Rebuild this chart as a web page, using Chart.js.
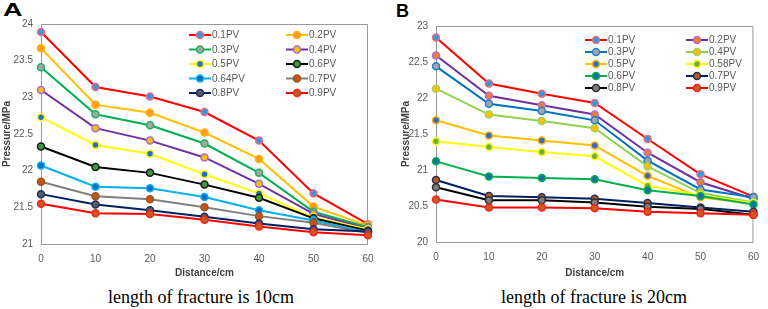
<!DOCTYPE html>
<html>
<head>
<meta charset="utf-8">
<script src="https://cdn.jsdelivr.net/npm/chart.js@4/dist/chart.umd.min.js"></script>
<style>
  body { margin: 0; background: #fff; width: 768px; height: 309px; position: relative; overflow: hidden; }
  canvas { position: absolute; top: 0; }
  #cA { left: 0; }
  #cB { left: 384px; }
  .tag { position: absolute; font: bold 18px "Liberation Sans", Arial, sans-serif; color: #000; }
  .cap { position: absolute; top: 286px; width: 384px; text-align: center; font: 18px "Liberation Serif", "Times New Roman", serif; color: #000; line-height: 22px; }
</style>
</head>
<body>
<div class="tag" style="left:3px; top:0px; transform: scaleX(1.5); transform-origin: left;">A</div>
<div class="tag" style="left:396px; top:1px;">B</div>
<canvas id="cA" width="384" height="280"></canvas>
<canvas id="cB" width="384" height="280"></canvas>
<div class="cap" style="left:9px;">length of fracture is 10cm</div>
<div class="cap" style="left:402px;">length of fracture is 20cm</div>
<script>
// x positions (cm)
const distances = [0, 10, 20, 30, 40, 50, 60];

// chart A: fracture length 10cm
const labelsA = ['0.1PV', '0.2PV', '0.3PV', '0.4PV', '0.5PV', '0.6PV', '0.64PV', '0.7PV', '0.8PV', '0.9PV'];
const a01 = [23.89, 23.14, 23.01, 22.80, 22.41, 21.69, 21.27];
const a02 = [23.67, 22.90, 22.79, 22.52, 22.16, 21.51, 21.25];
const a03 = [23.41, 22.77, 22.62, 22.37, 21.97, 21.44, 21.23];
const a04 = [23.10, 22.58, 22.41, 22.18, 21.82, 21.41, 21.21];
const a05 = [22.73, 22.35, 22.23, 21.95, 21.69, 21.36, 21.20];
const a06 = [22.33, 22.05, 21.97, 21.81, 21.63, 21.35, 21.18];
const a064 = [22.07, 21.78, 21.76, 21.64, 21.46, 21.32, 21.16];
const a07 = [21.85, 21.65, 21.61, 21.50, 21.38, 21.29, 21.15];
const a08 = [21.68, 21.54, 21.46, 21.37, 21.28, 21.20, 21.17];
const a09 = [21.55, 21.42, 21.41, 21.33, 21.24, 21.16, 21.12];
const yTicksA = [21, 21.5, 22, 22.5, 23, 23.5, 24];

// chart B: fracture length 20cm
const labelsB = ['0.1PV', '0.2PV', '0.3PV', '0.4PV', '0.5PV', '0.58PV', '0.6PV', '0.7PV', '0.8PV', '0.9PV'];
const b01 = [22.84, 22.20, 22.06, 21.93, 21.43, 20.94, 20.63];
const b02 = [22.59, 22.03, 21.90, 21.77, 21.24, 20.83, 20.60];
const b03 = [22.44, 21.92, 21.82, 21.69, 21.13, 20.73, 20.62];
const b04 = [22.13, 21.77, 21.68, 21.58, 21.05, 20.68, 20.55];
const b05 = [21.69, 21.48, 21.41, 21.34, 20.92, 20.62, 20.53];
const b058 = [21.40, 21.32, 21.25, 21.19, 20.78, 20.65, 20.54];
const b06 = [21.12, 20.91, 20.89, 20.87, 20.72, 20.64, 20.52];
const b07 = [20.86, 20.64, 20.62, 20.60, 20.54, 20.48, 20.42];
const b08 = [20.76, 20.58, 20.58, 20.55, 20.49, 20.46, 20.38];
const b09 = [20.59, 20.48, 20.48, 20.47, 20.42, 20.40, 20.38];
const yTicksB = [20, 20.5, 21, 21.5, 22, 22.5, 23];

// styles
const lineA = ['#FF0000', '#FFC000', '#00B050', '#7030A0', '#FFFF00', '#000000', '#00B0F0', '#808080', '#002060', '#FF0000'];
const fillA = ['#2E9BE0', '#FF9A1F', '#A5A5A5', '#FFC000', '#1F6FD0', '#3C9A3C', '#0A6FC0', '#C0571A', '#5A5A6A', '#C0601A'];
const ringA = ['#F06A7A', '#FFB000', '#1FB060', '#A070D0', '#FFFF00', '#1A1A1A', '#10B0F0', '#A05020', '#203060', '#FF2020'];
const lineB = ['#FF0000', '#7030A0', '#0070C0', '#92D050', '#FFC000', '#FFFF00', '#00B050', '#002060', '#000000', '#FF0000'];
const fillB = ['#2E9BE0', '#ED7D31', '#A5A5A5', '#FFC000', '#2E70C8', '#70AD47', '#1A6FA0', '#C0571A', '#7F7F7F', '#C0601A'];
const ringB = ['#F06A7A', '#B070D0', '#2080D0', '#A0D060', '#FFB000', '#FFFF00', '#00B050', '#203060', '#303030', '#FF2020'];

const FONT = '"Liberation Sans", Arial, sans-serif';

function makeSets(labels, series, lines, fills, rings) {
  return series.map((s, i) => ({
    label: labels[i],
    data: s,
    borderColor: lines[i],
    borderWidth: 2,
    pointBackgroundColor: fills[i],
    pointBorderColor: rings[i],
    pointBorderWidth: 1.5,
    pointRadius: 3.5,
    tension: 0,
    order: series.length - i
  }));
}

// legend drawn inside the plot, two columns
const innerLegend = {
  id: 'innerLegend',
  afterDatasetsDraw(chart, args, opts) {
    const ctx = chart.ctx;
    ctx.save();
    ctx.font = '10px ' + FONT;
    ctx.textBaseline = 'middle';
    ctx.textAlign = 'left';
    chart.data.datasets.forEach((ds, i) => {
      const x = opts.x[i % 2];
      const y = opts.y + Math.floor(i / 2) * opts.dy;
      ctx.strokeStyle = ds.borderColor;
      ctx.lineWidth = 2;
      ctx.beginPath();
      ctx.moveTo(x, y);
      ctx.lineTo(x + 22, y);
      ctx.stroke();
      ctx.beginPath();
      ctx.arc(x + 11, y, 3.5, 0, Math.PI * 2);
      ctx.fillStyle = ds.pointBackgroundColor;
      ctx.fill();
      ctx.lineWidth = 1.5;
      ctx.strokeStyle = ds.pointBorderColor;
      ctx.stroke();
      ctx.fillStyle = '#595959';
      ctx.fillText(ds.label, x + 23, y + 0.5);
    });
    ctx.restore();
  }
};

// grey frame round the plot area
const frame = {
  id: 'frame',
  beforeDatasetsDraw(chart) {
    const a = chart.chartArea, ctx = chart.ctx;
    ctx.save();
    ctx.strokeStyle = '#9A9A9A';
    ctx.lineWidth = 1;
    ctx.strokeRect(a.left + 0.5, a.top + 0.5, a.right - a.left - 1, a.bottom - a.top);
    ctx.restore();
  }
};

function makeChart(id, sets, yTicks, pad, yWidth, xHeight, legend) {
  new Chart(document.getElementById(id), {
    type: 'line',
    data: { labels: distances, datasets: sets },
    plugins: [frame, innerLegend],
    options: {
      responsive: false,
      animation: false,
      devicePixelRatio: 1,
      layout: { padding: pad },
      plugins: {
        legend: { display: false },
        tooltip: { enabled: false },
        innerLegend: legend
      },
      scales: {
        x: {
          grid: { display: false, drawTicks: false },
          border: { display: false },
          ticks: { padding: 9, color: '#595959', font: { family: FONT, size: 10 }, maxRotation: 0 },
          title: { display: true, text: 'Distance/cm', color: '#404040', font: { family: FONT, size: 10, weight: 'bold' }, padding: { top: 0, bottom: 1 } },
          afterFit: s => { s.height = xHeight; }
        },
        y: {
          min: yTicks[0],
          max: yTicks[yTicks.length - 1],
          grid: { display: false, drawTicks: false },
          border: { display: false },
          ticks: {
            stepSize: yTicks[1] - yTicks[0],
            padding: 8,
            color: '#595959',
            font: { family: FONT, size: 10 },
            callback: v => String(+v.toFixed(1))
          },
          title: { display: true, text: 'Pressure/MPa', color: '#404040', font: { family: FONT, size: 10, weight: 'bold' }, padding: { top: 1, bottom: 0 } },
          afterFit: s => { s.width = yWidth; }
        }
      }
    }
  });
}

makeChart('cA',
  makeSets(labelsA, [a01, a02, a03, a04, a05, a06, a064, a07, a08, a09], lineA, fillA, ringA),
  yTicksA, { left: 0, right: 16, top: 24, bottom: 0 }, 41, 36,
  { x: [189, 286], y: 35, dy: 14.5 });

makeChart('cB',
  makeSets(labelsB, [b01, b02, b03, b04, b05, b058, b06, b07, b08, b09], lineB, fillB, ringB),
  yTicksB, { left: 15, right: 7, top: 26, bottom: 0 }, 37, 38,
  { x: [201, 302], y: 40, dy: 12 });
</script>
</body>
</html>
